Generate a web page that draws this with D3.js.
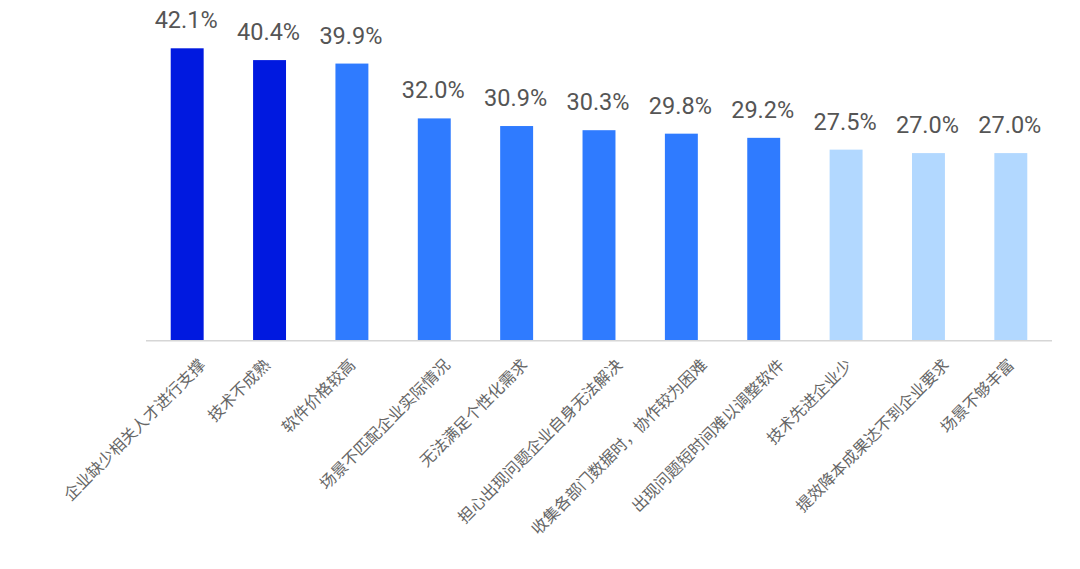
<!DOCTYPE html>
<html>
<head>
<meta charset="utf-8">
<script src="https://cdn.jsdelivr.net/npm/d3@7"></script>
<style>
  html, body { margin: 0; padding: 0; background: #fff; }
  svg { display: block; }
</style>
</head>
<body>
<svg id="chart" width="1080" height="569"></svg>
<script>
const categories = [
  "企业缺少相关人才进行支撑",
  "技术不成熟",
  "软件价格较高",
  "场景不匹配企业实际情况",
  "无法满足个性化需求",
  "担心出现问题企业自身无法解决",
  "收集各部门数据时，协作较为困难",
  "出现问题短时间难以调整软件",
  "技术先进企业少",
  "提效降本成果达不到企业要求",
  "场景不够丰富"
];
const values = [42.1, 40.4, 39.9, 32.0, 30.9, 30.3, 29.8, 29.2, 27.5, 27.0, 27.0];
const tiers = [0, 0, 1, 1, 1, 1, 1, 1, 2, 2, 2];
const tierColors = ["#0019E0", "#2F7BFF", "#B2D8FF"];

const svg = d3.select("#chart");
const baseY = 340.5;

const x = d3.scaleBand()
  .domain(categories)
  .range([146, 1052])
  .paddingInner(0.6)
  .paddingOuter(0.3);

const y = d3.scaleLinear()
  .domain([0, 42.1])
  .range([baseY, 48.3]);

const color = d3.scaleOrdinal().domain([0, 1, 2]).range(tierColors);

const data = categories.map((c, i) => ({ c, v: values[i], t: tiers[i] }));

// bars
svg.append("g").selectAll("rect")
  .data(data)
  .join("rect")
  .attr("x", d => x(d.c))
  .attr("y", d => y(d.v))
  .attr("width", x.bandwidth())
  .attr("height", d => baseY - y(d.v))
  .attr("fill", d => color(d.t));

// axis line
svg.append("line")
  .attr("x1", 146).attr("x2", 1052)
  .attr("y1", baseY + 0.3).attr("y2", baseY + 0.3)
  .attr("stroke", "#d6d6d6")
  .attr("stroke-width", 1.6);

// value labels
svg.append("g").selectAll("text")
  .data(data)
  .join("text")
  .attr("x", d => x(d.c) + x.bandwidth() / 2 - 1)
  .attr("y", d => y(d.v) - 20)
  .attr("text-anchor", "middle")
  .attr("font-family", "Roboto, 'Liberation Sans', Arial, sans-serif")
  .attr("font-size", 23.5)
  .attr("fill", "#555")
  .text(d => d.v.toFixed(1) + "%");

// category labels
svg.append("g").selectAll("text")
  .data(data)
  .join("text")
  .attr("transform", d => {
    const n = Array.from(d.c).length;
    const cx = x(d.c) + x.bandwidth() / 2 + 2.48 * n - 10.5;
    return `translate(${cx},366) rotate(-45)`;
  })
  .attr("text-anchor", "end")
  .attr("font-family", "'Noto Sans CJK SC', sans-serif")
  .attr("font-size", 16)
  .attr("fill", "#666")
  .text(d => d.c);
</script>
</body>
</html>
